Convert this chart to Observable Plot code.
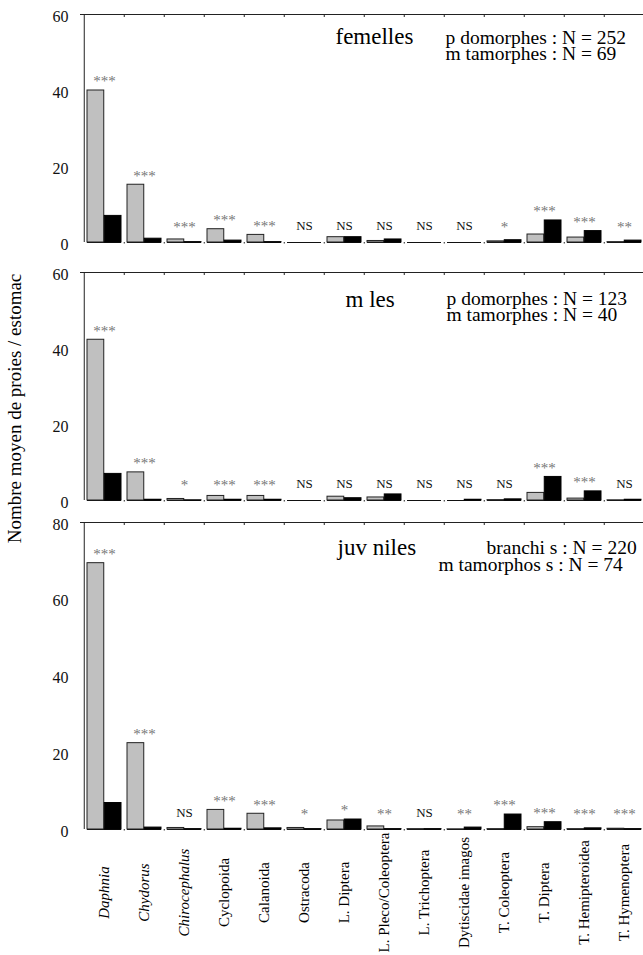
<!DOCTYPE html>
<html>
<head>
<meta charset="utf-8">
<script src="https://cdn.jsdelivr.net/npm/d3@7"></script>
<script src="https://cdn.jsdelivr.net/npm/@observablehq/plot@0.6"></script>
<style>
  html, body { margin: 0; padding: 0; background: #fff; overflow: hidden; }
  #wrap { position: relative; width: 643px; height: 955px; overflow: hidden; }
  .panel { position: absolute; left: 0; }
  .panel svg, .panel svg text, .panel svg g {
    font-family: "Liberation Serif", "Times New Roman", Times, serif !important;
  }
</style>
</head>
<body>
<div id="wrap"></div>
<script>
// ---------- data ----------
const categories = ["Daphnia", "Chydorus", "Chirocephalus", "Cyclopoida", "Calanoida", "Ostracoda",
  "L. Diptera", "L. Pleco/Coleoptera", "L. Trichoptera", "Dytiscidae imagos",
  "T. Coleoptera", "T. Diptera", "T. Hemipteroidea", "T. Hymenoptera"];
const italicCategories = ["Daphnia", "Chydorus", "Chirocephalus"];

const femellesGray  = [40.0, 15.2, 0.8, 3.5, 2.0, 0, 1.4, 0.4, 0, 0, 0.3, 2.1, 1.3, 0.1];
const femellesBlack = [7.0, 1.0, 0.1, 0.5, 0.1, 0, 1.4, 0.8, 0, 0, 0.6, 5.8, 3.0, 0.5];
const femellesSig   = ["***", "***", "***", "***", "***", "NS", "NS", "NS", "NS", "NS", "*", "***", "***", "**"];

const malesGray  = [42.3, 7.4, 0.4, 1.2, 1.2, 0, 1.0, 0.8, 0, 0, 0.1, 2.0, 0.5, 0.05];
const malesBlack = [7.0, 0.2, 0.05, 0.2, 0.2, 0, 0.6, 1.6, 0, 0.2, 0.3, 6.2, 2.4, 0.2];
const malesSig   = ["***", "***", "*", "***", "***", "NS", "NS", "NS", "NS", "NS", "NS", "***", "***", "NS"];

const juvGray  = [69.4, 22.5, 0.4, 5.1, 4.1, 0.4, 2.35, 0.8, 0.1, 0.05, 0.1, 0.6, 0.1, 0.2];
const juvBlack = [6.9, 0.5, 0.1, 0.2, 0.3, 0.1, 2.6, 0.1, 0.1, 0.5, 3.9, 1.9, 0.3, 0.1];
const juvSig   = ["***", "***", "NS", "***", "***", "*", "*", "**", "NS", "**", "***", "***", "***", "***"];

const ticks60 = [0, 20, 40, 60];
const ticks80 = [0, 20, 40, 60, 80];

const yTitle = "Nombre moyen de proies / estomac";

// ---------- drawing ----------
const FONT = "Liberation Serif, Times New Roman, Times, serif";
const W = 643, ML = 80, MR = -4;
const bw = (W - MR - ML) / categories.length;

function panel(cfg) {
  const {gray, black, sig, yMax, ticks, marginTop, plotH, marginBottom, texts, xLabels, extra} = cfg;
  const k = plotH / yMax;
  const rows = categories.map((c, i) => ({cat: c, g: gray[i], b: black[i], s: sig[i]}));
  const labY = d => Math.max(Math.max(d.g, d.b) + 11 / k, 17 / k);
  const marks = [
    Plot.ruleY([yMax], {stroke: "#222", strokeWidth: 1}),
    Plot.ruleX([categories[0]], {x: d => d, y1: 0, y2: yMax, dx: -bw / 2, stroke: "#222"}),
    Plot.ruleX(categories.slice(1), {x: d => d, y1: yMax, y2: yMax - 3 / k, dx: -bw / 2, stroke: "#222"}),
    Plot.ruleX(categories.slice(1), {x: d => d, y1: 0, y2: -1.5 / k, dx: -bw / 2, stroke: "#222"}),
    Plot.tickY(categories, {x: d => d, y: 0, insetLeft: 3, insetRight: 3, stroke: "#111"}),
    Plot.barY(rows, {x: "cat", y: "g", fill: "#c0c0c0", stroke: "#222", strokeWidth: 1,
      insetLeft: 3, insetRight: bw / 2}),
    Plot.barY(rows, {x: "cat", y: "b", fill: "#000", stroke: "#000", strokeWidth: 1,
      insetLeft: bw / 2, insetRight: 3}),
    Plot.text(rows.filter(d => d.s !== "NS"), {x: "cat", y: labY, text: "s", fontSize: 15,
      fontFamily: FONT, fill: "#777777", dy: 2, lineAnchor: "middle", textAnchor: "middle"}),
    Plot.text(rows.filter(d => d.s === "NS"), {x: "cat", y: labY, text: "s", fontSize: 13,
      fontFamily: FONT, fill: "#111", lineAnchor: "middle", textAnchor: "middle"}),
    Plot.axisY({ticks, tickSize: 0, tickPadding: 12, fontSize: 16, fontFamily: FONT, dy: 2,
      label: null, fill: "#111"})
  ];
  for (const t of texts) {
    marks.push(Plot.text([t.s], {text: d => d, frameAnchor: "top-left", dx: t.x - ML, dy: t.y,
      lineAnchor: "bottom", textAnchor: "start", fontSize: t.size, fontFamily: FONT, fill: "#000"}));
  }
  if (xLabels) {
    marks.push(Plot.text(categories.filter(c => !italicCategories.includes(c)), {
      x: d => d, text: d => d, frameAnchor: "bottom", dy: 63, rotate: -90,
      textAnchor: "middle", lineAnchor: "middle", fontSize: 15, fontFamily: FONT, fill: "#000"}));
    marks.push(Plot.text(italicCategories, {
      x: d => d, text: d => d, frameAnchor: "bottom", dy: 63, rotate: -90,
      textAnchor: "middle", lineAnchor: "middle", fontSize: 15, fontFamily: FONT,
      fontStyle: "italic", fill: "#000"}));
  }
  if (extra) marks.push(...extra(plotH));
  return Plot.plot({
    width: W,
    height: marginTop + plotH + marginBottom,
    marginLeft: ML, marginRight: MR, marginTop, marginBottom,
    style: {fontFamily: FONT, background: "transparent", overflow: "visible", color: "#000"},
    x: {type: "band", domain: categories, padding: 0, axis: null},
    y: {domain: [0, yMax], axis: null},
    marks
  });
}

const wrap = document.getElementById("wrap");
function place(svg, top) {
  const d = document.createElement("div");
  d.className = "panel";
  d.style.top = top + "px";
  d.appendChild(svg);
  wrap.appendChild(d);
}

place(panel({
  gray: femellesGray, black: femellesBlack, sig: femellesSig, yMax: 60, ticks: ticks60,
  marginTop: 14, plotH: 228, marginBottom: 8,
  texts: [
    {s: "femelles", x: 335, y: 29, size: 23},
    {s: "p domorphes : N = 252", x: 445, y: 29, size: 19.5},
    {s: "m tamorphes : N = 69", x: 445, y: 45.5, size: 19.5}
  ]
}), 0);

place(panel({
  gray: malesGray, black: malesBlack, sig: malesSig, yMax: 60, ticks: ticks60,
  marginTop: 22, plotH: 228, marginBottom: 8,
  texts: [
    {s: "m les", x: 345, y: 34.5, size: 23},
    {s: "p domorphes : N = 123", x: 446, y: 32, size: 19.5},
    {s: "m tamorphes : N = 40", x: 446, y: 48.5, size: 19.5}
  ],
  extra: (plotH) => [
    Plot.text([yTitle], {text: d => d, frameAnchor: "left", dx: 20 - ML, dy: 22, rotate: -90,
      lineAnchor: "bottom", textAnchor: "middle", fontSize: 19, fontFamily: FONT, fill: "#000"})
  ]
}), 250);

place(panel({
  gray: juvGray, black: juvBlack, sig: juvSig, yMax: 80, ticks: ticks80,
  marginTop: 22, plotH: 307, marginBottom: 126,
  texts: [
    {s: "juv niles", x: 337, y: 32, size: 23},
    {s: "branchi s : N = 220", x: 486, y: 31, size: 19.5},
    {s: "m tamorphos s : N = 74", x: 438, y: 48, size: 19.5}
  ],
  xLabels: true
}), 500);
</script>
</body>
</html>
